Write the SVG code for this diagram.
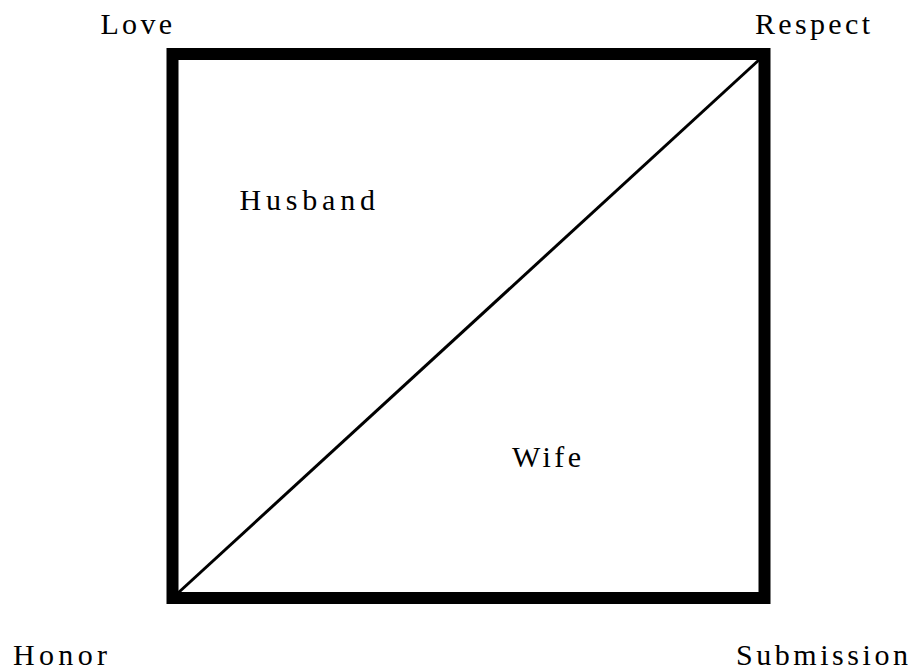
<svg xmlns="http://www.w3.org/2000/svg" width="916" height="672" viewBox="0 0 916 672">
<style>
.lbl{font-family:"Liberation Serif","Times New Roman",serif;font-size:30px;fill:#000;}
.frame{fill:none;stroke:#000;stroke-width:12;}
.diag{stroke:#000;stroke-width:3;fill:none;}
</style>
<rect width="916" height="672" fill="#fff"/>
<g id="square"><rect class="frame" x="172.5" y="54" width="592" height="544"/></g>
<g id="connectors"><line class="diag" x1="178" y1="593" x2="760" y2="59"/></g>
<g id="love"><text class="lbl" x="100.5" y="34" textLength="71.5" lengthAdjust="spacing">Love</text></g>
<g id="respect"><text class="lbl" x="755" y="33.5" textLength="115" lengthAdjust="spacing">Respect</text></g>
<g id="husband"><text class="lbl" x="239.5" y="209.5" textLength="135.5" lengthAdjust="spacing">Husband</text></g>
<g id="wife"><text class="lbl" x="512" y="466.5" textLength="69" lengthAdjust="spacing">Wife</text></g>
<g id="honor"><text class="lbl" x="13" y="664.5" textLength="94" lengthAdjust="spacing">Honor</text></g>
<g id="submission"><text class="lbl" x="736" y="664.5" textLength="172" lengthAdjust="spacing">Submission</text></g>
</svg>
